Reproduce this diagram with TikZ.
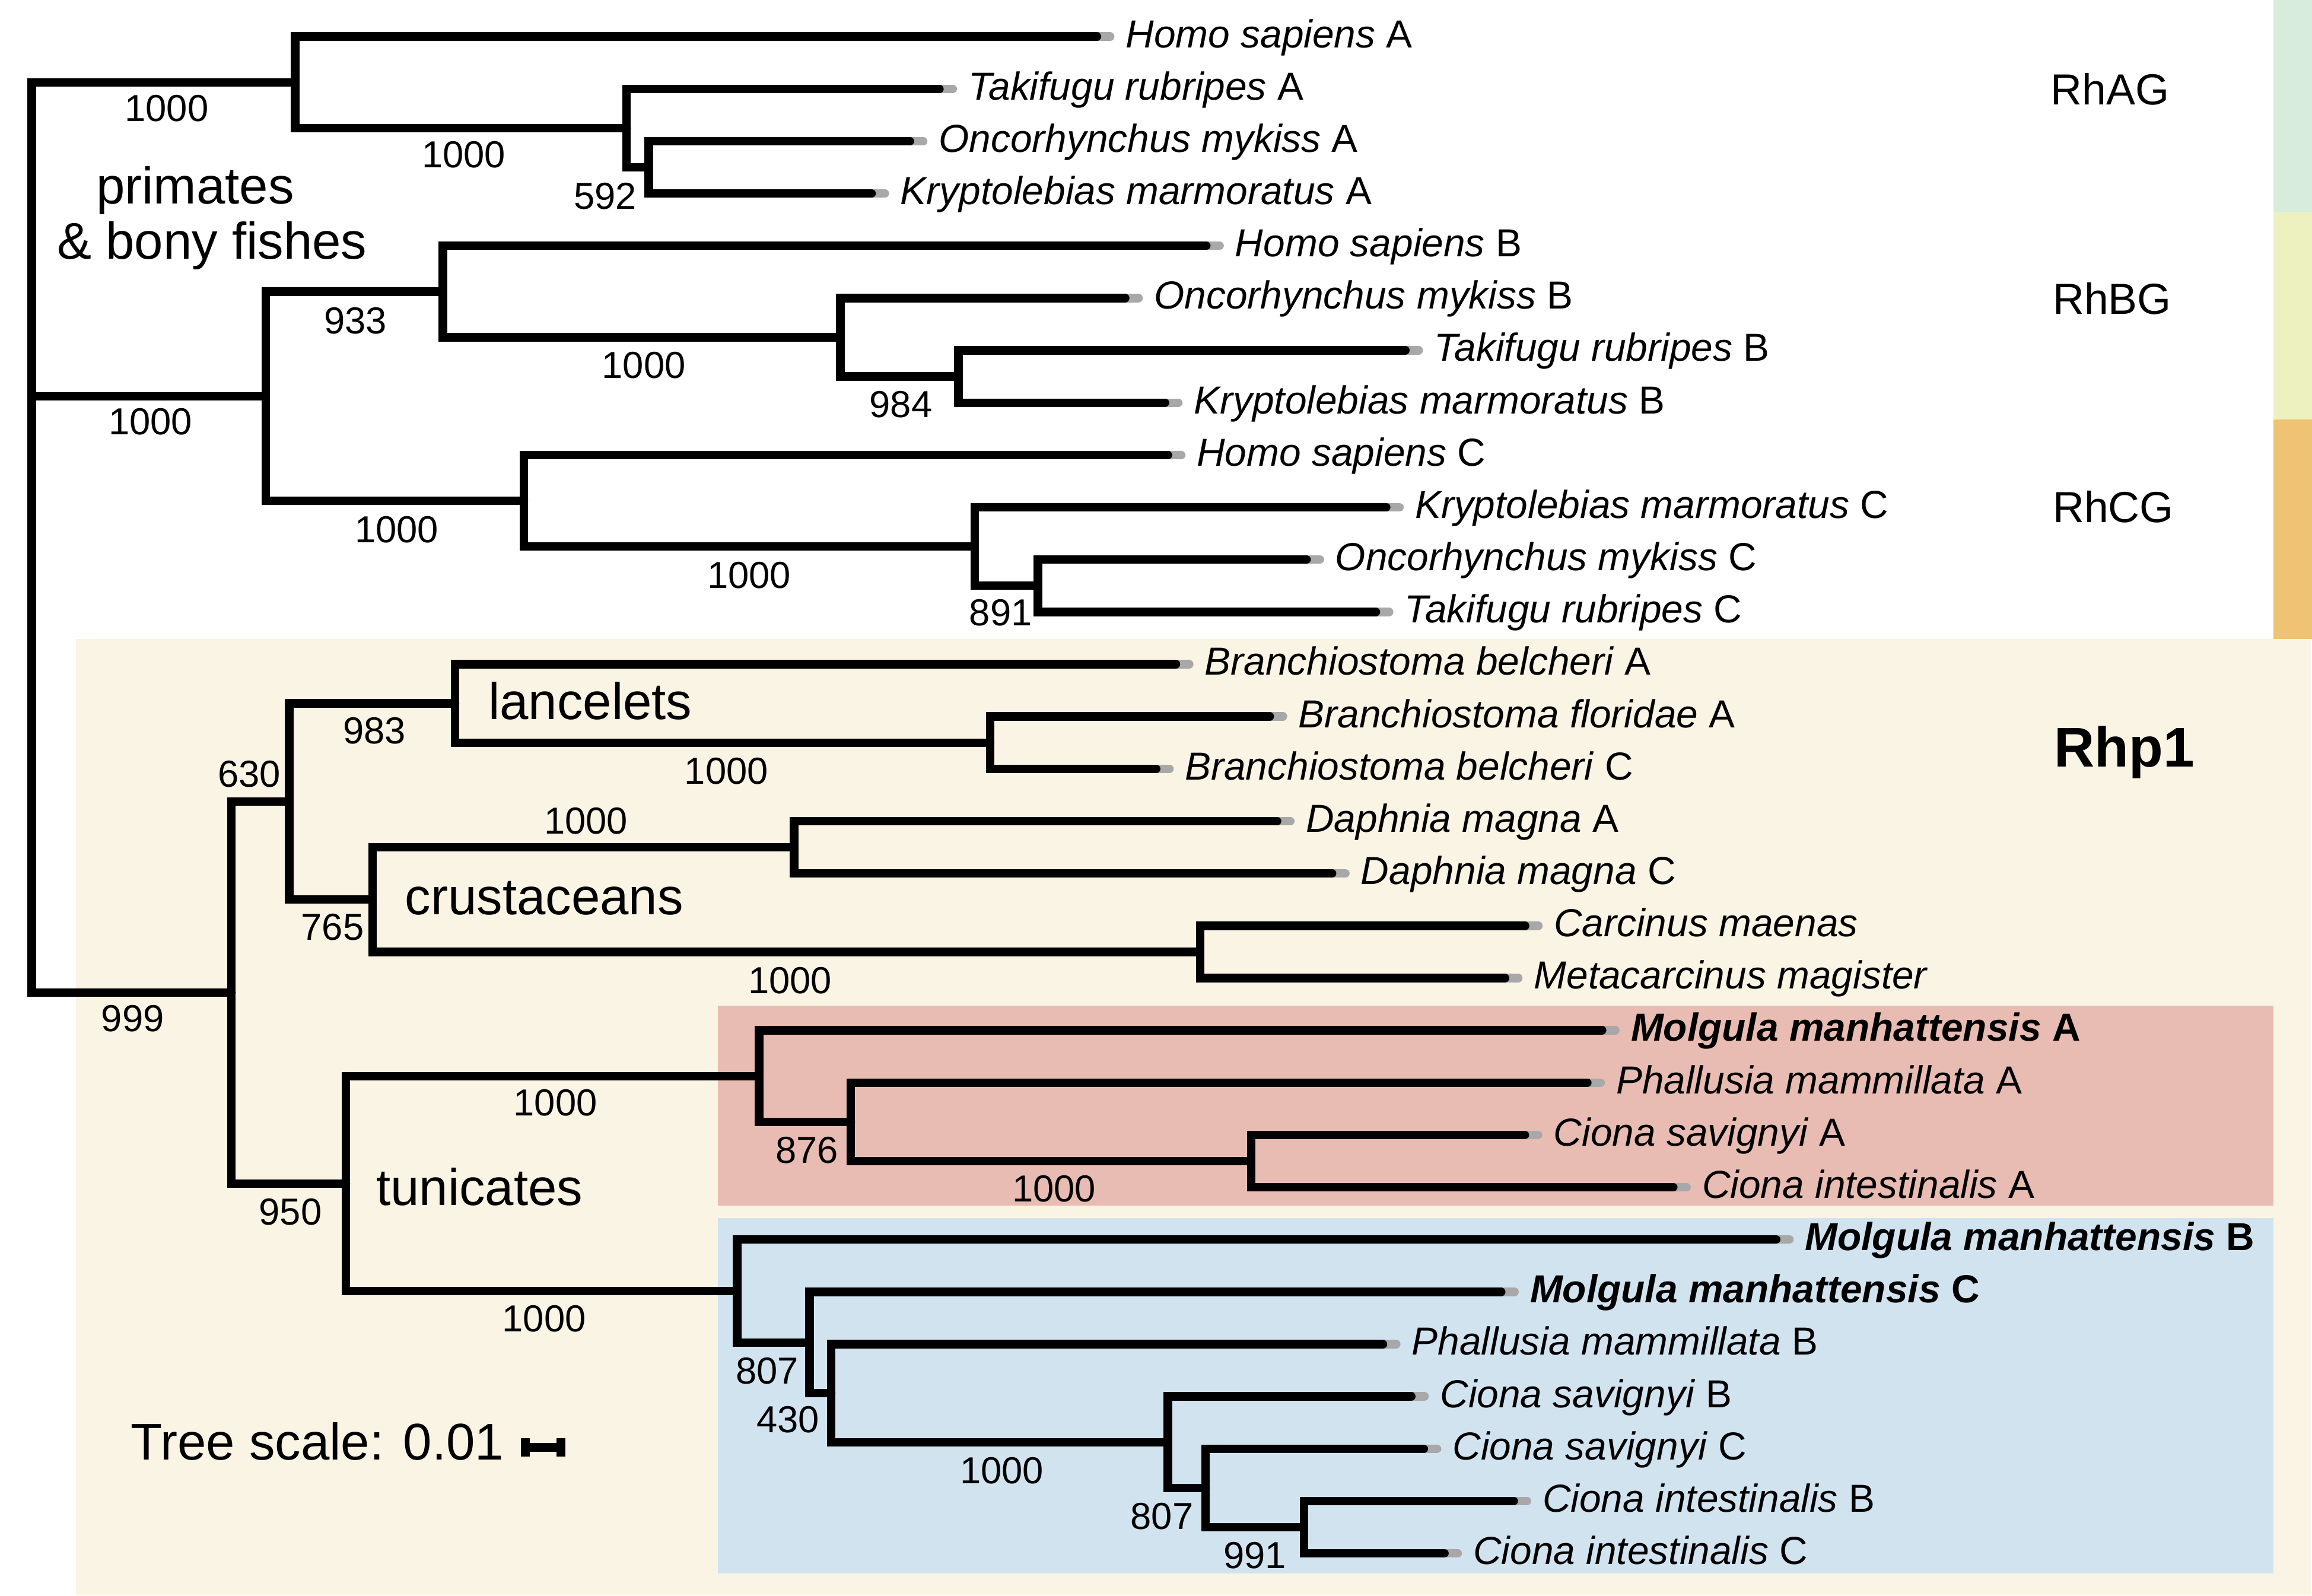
\documentclass[tikz,border=0pt]{standalone}
\usepackage{fontspec}
\setmainfont{Liberation Sans}
\definecolor{bgbeige}{RGB}{250,244,228}
\definecolor{bgred}{RGB}{232,188,178}
\definecolor{bgblue}{RGB}{210,227,240}
\definecolor{stripgreen}{RGB}{216,236,222}
\definecolor{stripyellow}{RGB}{237,241,192}
\definecolor{striporange}{RGB}{238,195,116}
\definecolor{tipgray}{RGB}{168,168,168}
\tikzset{
  branch/.style={line width=5.8pt, line cap=round, line join=miter, draw=black},
  tipgrey/.style={line width=5.8pt, line cap=round, draw=tipgray},
  leaflab/.style={anchor=base west, inner sep=0pt, font=\fontsize{26.5}{30}\selectfont},
  boot/.style={inner sep=0pt, font=\fontsize{25.5}{28}\selectfont},
  grp/.style={anchor=base west, inner sep=0pt, font=\fontsize{35}{40}\selectfont},
  gene/.style={anchor=base west, inner sep=0pt, font=\fontsize{29.5}{33}\selectfont},
}
\newcommand{\tleaf}[4]{%
  \coordinate (#1) at ({#2-2.9},#3);
  \draw[tipgrey] (#1) -- ++(9,0);
  \node[leaflab] (#1lab) at ({#2+16.5},{#3+7.4}) {#4};
}
\begin{document}
\begin{tikzpicture}[x=1pt,y=-1pt]
\useasboundingbox (0,0) rectangle (1568,1082);
% backgrounds
\fill[white] (0,0) rectangle (1568,1082);
\fill[bgbeige] (51.7,433.5) rectangle (1567.5,1082);
\fill[stripgreen] (1541.7,0) rectangle (1568,143.6);
\fill[stripyellow] (1541.7,143.6) rectangle (1568,284.4);
\fill[striporange] (1541.7,284.4) rectangle (1568,433.4);
\fill[bgred] (486.7,681.8) rectangle (1541.8,817.4);
\fill[bgblue] (486.7,826) rectangle (1541.8,1067);

% leaves
\tleaf{L1}{746.8}{24.8}{\textit{Homo sapiens} A}
\tleaf{L2}{640}{60.27}{\textit{Takifugu rubripes} A}
\tleaf{L3}{620}{95.74}{\textit{Oncorhynchus mykiss} A}
\tleaf{L4}{594}{131.21}{\textit{Kryptolebias marmoratus} A}
\tleaf{L5}{821}{166.68}{\textit{Homo sapiens} B}
\tleaf{L6}{766}{202.15}{\textit{Oncorhynchus mykiss} B}
\tleaf{L7}{956}{237.62}{\textit{Takifugu rubripes} B}
\tleaf{L8}{793}{273.09}{\textit{Kryptolebias marmoratus} B}
\tleaf{L9}{795}{308.56}{\textit{Homo sapiens} C}
\tleaf{L10}{943}{344.03}{\textit{Kryptolebias marmoratus} C}
\tleaf{L11}{889}{379.5}{\textit{Oncorhynchus mykiss} C}
\tleaf{L12}{936}{414.97}{\textit{Takifugu rubripes} C}
\tleaf{L13}{800.4}{450.44}{\textit{Branchiostoma belcheri} A}
\tleaf{L14}{864}{485.91}{\textit{Branchiostoma floridae} A}
\tleaf{L15}{787}{521.38}{\textit{Branchiostoma belcheri} C}
\tleaf{L16}{869}{556.85}{\textit{Daphnia magna} A}
\tleaf{L17}{906.3}{592.32}{\textit{Daphnia magna} C}
\tleaf{L18}{1037.2}{627.79}{\textit{Carcinus maenas}}
\tleaf{L19}{1023.6}{663.26}{\textit{Metacarcinus magister}}
\tleaf{L20}{1089.4}{698.73}{\textbf{\textit{Molgula manhattensis} A}}
\tleaf{L21}{1079.4}{734.2}{\textit{Phallusia mammillata} A}
\tleaf{L22}{1037}{769.67}{\textit{Ciona savignyi} A}
\tleaf{L23}{1137.7}{805.14}{\textit{Ciona intestinalis} A}
\tleaf{L24}{1207.5}{840.61}{\textbf{\textit{Molgula manhattensis} B}}
\tleaf{L25}{1021}{876.08}{\textbf{\textit{Molgula manhattensis} C}}
\tleaf{L26}{940.8}{911.55}{\textit{Phallusia mammillata} B}
\tleaf{L27}{960}{947.02}{\textit{Ciona savignyi} B}
\tleaf{L28}{968.5}{982.49}{\textit{Ciona savignyi} C}
\tleaf{L29}{1029.5}{1017.96}{\textit{Ciona intestinalis} B}
\tleaf{L30}{982.5}{1053.43}{\textit{Ciona intestinalis} C}

% internal nodes
\coordinate (a3) at (440,113.475);
\coordinate (a2) at (425,86.87);
\coordinate (a1) at (200.2,55.84);
\coordinate (b3) at (650,255.355);
\coordinate (b2) at (570,228.75);
\coordinate (b1) at (300.3,197.72);
\coordinate (c3) at (704,397.235);
\coordinate (c2) at (661,370.63);
\coordinate (c1) at (355.3,339.6);
\coordinate (bc) at (180.2,268.66);
\coordinate (lB) at (671.5,503.645);
\coordinate (lA) at (308.6,477.04);
\coordinate (d2) at (538.6,574.585);
\coordinate (d3) at (813.9,645.525);
\coordinate (d1) at (252.6,610.055);
\coordinate (lc) at (196.2,543.55);
\coordinate (ta3) at (848.5,787.405);
\coordinate (ta2) at (577,760.80);
\coordinate (ta1) at (514.8,729.77);
\coordinate (tb6) at (884.3,1035.695);
\coordinate (tb5) at (817.7,1009.09);
\coordinate (tb4) at (792,978.055);
\coordinate (tb3) at (563.7,944.80);
\coordinate (tb2) at (549,910.44);
\coordinate (tb1) at (500,875.525);
\coordinate (tun) at (234.6,802.65);
\coordinate (rhp) at (157,673.1);
\coordinate (root) at (21.5,268.66);

% branches
\draw[branch] (root) |- (a1);
\draw[branch] (root) |- (bc);
\draw[branch] (root) |- (rhp);
\draw[branch] (a1) |- (L1);
\draw[branch] (a1) |- (a2);
\draw[branch] (a2) |- (L2);
\draw[branch] (a2) |- (a3);
\draw[branch] (a3) |- (L3);
\draw[branch] (a3) |- (L4);
\draw[branch] (bc) |- (b1);
\draw[branch] (bc) |- (c1);
\draw[branch] (b1) |- (L5);
\draw[branch] (b1) |- (b2);
\draw[branch] (b2) |- (L6);
\draw[branch] (b2) |- (b3);
\draw[branch] (b3) |- (L7);
\draw[branch] (b3) |- (L8);
\draw[branch] (c1) |- (L9);
\draw[branch] (c1) |- (c2);
\draw[branch] (c2) |- (L10);
\draw[branch] (c2) |- (c3);
\draw[branch] (c3) |- (L11);
\draw[branch] (c3) |- (L12);
\draw[branch] (rhp) |- (lc);
\draw[branch] (rhp) |- (tun);
\draw[branch] (lc) |- (lA);
\draw[branch] (lc) |- (d1);
\draw[branch] (lA) |- (L13);
\draw[branch] (lA) |- (lB);
\draw[branch] (lB) |- (L14);
\draw[branch] (lB) |- (L15);
\draw[branch] (d1) |- (d2);
\draw[branch] (d1) |- (d3);
\draw[branch] (d2) |- (L16);
\draw[branch] (d2) |- (L17);
\draw[branch] (d3) |- (L18);
\draw[branch] (d3) |- (L19);
\draw[branch] (tun) |- (ta1);
\draw[branch] (tun) |- (tb1);
\draw[branch] (ta1) |- (L20);
\draw[branch] (ta1) |- (ta2);
\draw[branch] (ta2) |- (L21);
\draw[branch] (ta2) |- (ta3);
\draw[branch] (ta3) |- (L22);
\draw[branch] (ta3) |- (L23);
\draw[branch] (tb1) |- (L24);
\draw[branch] (tb1) |- (tb2);
\draw[branch] (tb2) |- (L25);
\draw[branch] (tb2) |- (tb3);
\draw[branch] (tb3) |- (L26);
\draw[branch] (tb3) |- (tb4);
\draw[branch] (tb4) |- (L27);
\draw[branch] (tb4) |- (tb5);
\draw[branch] (tb5) |- (L28);
\draw[branch] (tb5) |- (tb6);
\draw[branch] (tb6) |- (L29);
\draw[branch] (tb6) |- (L30);

% bootstrap values
\node[boot] (bs1) at (113,73.4) {1000};
\node[boot] (bs2) at (314.5,105) {1000};
\node[boot] (bs3) at (410.4,133) {592};
\node[boot] (bs4) at (241,217.4) {933};
\node[boot] (bs5) at (436.6,247.7) {1000};
\node[boot] (bs6) at (102,286) {1000};
\node[boot] (bs7) at (269,359.2) {1000};
\node[boot] (bs8) at (508,390) {1000};
\node[boot] (bs9) at (611,274.4) {984};
\node[boot] (bs10) at (678.7,415.5) {891};
\node[boot] (bs11) at (254,495.7) {983};
\node[boot] (bs12) at (169,524.8) {630};
\node[boot] (bs13) at (225.5,628.7) {765};
\node[boot] (bs14) at (90,690.8) {999};
\node[boot] (bs15) at (197,821.7) {950};
\node[boot] (bs16) at (397.4,556.8) {1000};
\node[boot] (bs17) at (492.6,522.9) {1000};
\node[boot] (bs18) at (535.8,664.8) {1000};
\node[boot] (bs19) at (376.7,748) {1000};
\node[boot] (bs20) at (369,894.3) {1000};
\node[boot] (bs21) at (547.3,780) {876};
\node[boot] (bs22) at (714.8,806.1) {1000};
\node[boot] (bs23) at (520.4,929.7) {807};
\node[boot] (bs24) at (534.4,962.8) {430};
\node[boot] (bs25) at (679.4,997.5) {1000};
\node[boot] (bs26) at (788,1028.2) {807};
\node[boot] (bs27) at (851,1054.9) {991};

% group labels
\node[grp] (gprim) at (65,138.3) {primates};
\node[grp] (gbony) at (38.5,175.6) {\& bony fishes};
\node[grp] (glanc) at (331,487.7) {lancelets};
\node[grp] (gcrus) at (274.5,620.3) {crustaceans};
\node[grp] (gtuni) at (255,817.3) {tunicates};
\node[grp] (gscale) at (88.5,989.8) {Tree scale: 0.01};

% gene family labels
\node[gene] (rhag) at (1390.5,71.1) {RhAG};
\node[gene] (rhbg) at (1392,213.1) {RhBG};
\node[gene] (rhcg) at (1392,354.2) {RhCG};
\node[anchor=base west, inner sep=0pt, font=\fontsize{38}{42}\selectfont\bfseries] (rhp1) at (1393,520) {Rhp1};

% scale bar
\coordinate (sbL) at (356.3,981.5);
\coordinate (sbR) at (380.4,981.5);
\draw[line width=6pt] (sbL) -- (sbR);
\fill ([shift={(-3,-6.2)}]sbL) rectangle ([shift={(3,6.2)}]sbL);
\fill ([shift={(-3,-6.2)}]sbR) rectangle ([shift={(3,6.2)}]sbR);
\end{tikzpicture}
\end{document}
